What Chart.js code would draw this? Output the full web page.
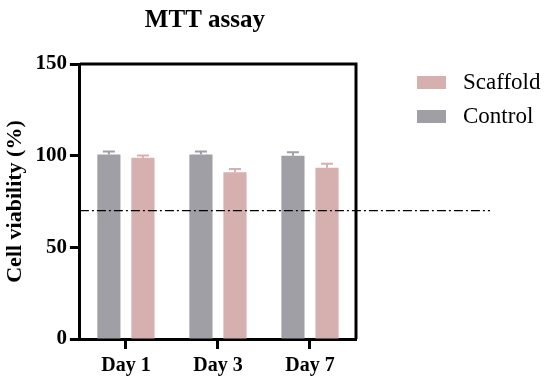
<!DOCTYPE html>
<html>
<head>
<meta charset="utf-8">
<script src="https://cdn.jsdelivr.net/npm/chart.js@4"></script>
<style>
  body { margin: 0; background: #fff; }
  canvas { display: block; }
</style>
</head>
<body>
<canvas id="myChart" width="544" height="378"></canvas>
<script>
const days = ['Day 1', 'Day 3', 'Day 7'];
const control = [100.7, 100.7, 100.0];
const controlErr = [1.6, 1.6, 1.8];
const scaffold = [98.9, 90.9, 93.4];
const scaffoldErr = [1.2, 1.8, 2.2];
const yTicks = [0, 50, 100, 150];
const threshold = 70;

const serif = "'Liberation Serif', 'Times New Roman', serif";

// error bars, frame, threshold line, title, legend
const extras = {
  id: 'extras',
  afterDatasetsDraw(chart) {
    const ctx = chart.ctx;
    const y = chart.scales.y;
    const area = chart.chartArea;
    ctx.save();
    const errs = [controlErr, scaffoldErr];
    chart.data.datasets.forEach((ds, di) => {
      chart.getDatasetMeta(di).data.forEach((bar, i) => {
        const top = y.getPixelForValue(ds.data[i] + errs[di][i]);
        ctx.strokeStyle = ds.backgroundColor;
        ctx.lineWidth = 2;
        ctx.beginPath();
        ctx.moveTo(bar.x, bar.y);
        ctx.lineTo(bar.x, top);
        ctx.moveTo(bar.x - 6, top);
        ctx.lineTo(bar.x + 6, top);
        ctx.stroke();
      });
    });
    // frame
    ctx.strokeStyle = '#000';
    ctx.lineWidth = 3;
    ctx.beginPath();
    ctx.moveTo(area.left, area.top);
    ctx.lineTo(area.right, area.top);
    ctx.lineTo(area.right, area.bottom);
    ctx.stroke();
    // threshold
    const ty = y.getPixelForValue(threshold);
    ctx.lineWidth = 1.2;
    ctx.setLineDash([9, 3, 2, 3]);
    ctx.beginPath();
    ctx.moveTo(area.left, ty);
    ctx.lineTo(490, ty);
    ctx.stroke();
    ctx.setLineDash([]);
    // title
    ctx.fillStyle = '#000';
    ctx.font = 'bold 25px ' + serif;
    ctx.textAlign = 'center';
    ctx.textBaseline = 'middle';
    ctx.fillText('MTT assay', (area.left + area.right) / 2 - 13, 21);
    // legend (scaffold first)
    ctx.font = '23px ' + serif;
    ctx.textAlign = 'left';
    [1, 0].forEach((di, k) => {
      const ds = chart.data.datasets[di];
      const ly = 76 + k * 34;
      ctx.fillStyle = ds.backgroundColor;
      ctx.fillRect(417, ly, 29, 13);
      ctx.fillStyle = '#000';
      ctx.fillText(ds.label, 463, ly + 7);
    });
    ctx.restore();
  }
};

const chart = new Chart(document.getElementById('myChart'), {
  type: 'bar',
  data: {
    labels: days,
    datasets: [
      { label: 'Control', data: control, backgroundColor: '#a09fa5' },
      { label: 'Scaffold', data: scaffold, backgroundColor: '#d6afaf' }
    ]
  },
  options: {
    responsive: false,
    animation: false,
    categoryPercentage: 0.74,
    barPercentage: 0.68,
    layout: { padding: { top: 64, right: 188, left: 2, bottom: -5 } },
    plugins: { legend: { display: false }, tooltip: { enabled: false } },
    scales: {
      x: {
        grid: { display: true, offset: false, drawOnChartArea: false, tickLength: 10, tickWidth: 3, tickColor: '#000' },
        border: { color: '#000', width: 3 },
        ticks: { color: '#000', font: { family: serif, size: 20, weight: 'bold', lineHeight: 1 }, padding: 7 }
      },
      y: {
        min: 0, max: 150,
        afterBuildTicks: s => { s.ticks = yTicks.map(v => ({ value: v })); },
        grid: { drawOnChartArea: false, tickLength: 10, tickWidth: 3, tickColor: '#000' },
        border: { color: '#000', width: 3 },
        ticks: { color: '#000', font: { family: serif, size: 21, weight: 'bold' }, padding: 3 },
        title: { display: true, text: 'Cell viability (%)', color: '#000', font: { family: serif, size: 22, weight: 'bold' }, padding: { top: 0, bottom: 4 } }
      }
    }
  },
  plugins: [extras]
});
</script>
</body>
</html>
